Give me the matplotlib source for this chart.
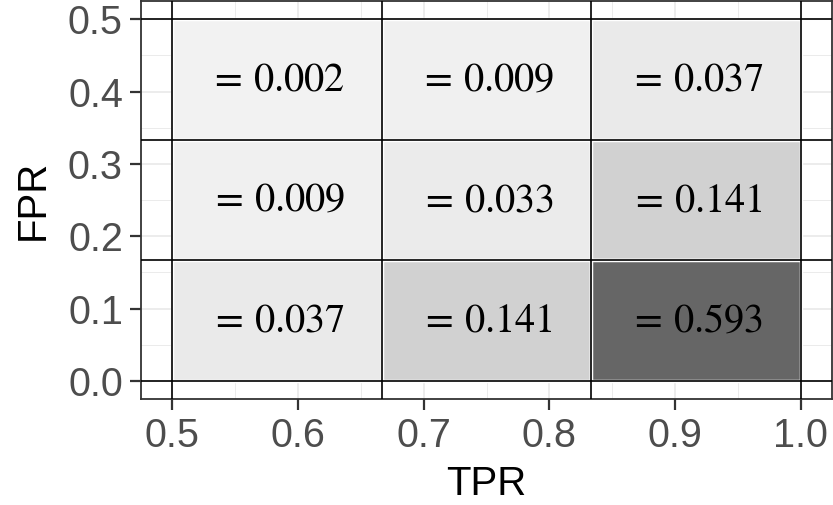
import numpy as np
import matplotlib.pyplot as plt
from matplotlib.colors import LinearSegmentedColormap, Normalize
from matplotlib.patches import Rectangle
from matplotlib.ticker import MultipleLocator

plt.rcParams['font.family'] = ['Liberation Sans', 'DejaVu Sans']
plt.rcParams['mathtext.fontset'] = 'stix'

# tile centres and joint probabilities
tpr = [0.5833, 0.75, 0.9167, 0.5833, 0.75, 0.9167, 0.5833, 0.75, 0.9167]
fpr = [0.4167, 0.4167, 0.4167, 0.25, 0.25, 0.25, 0.0833, 0.0833, 0.0833]
prob = [0.002, 0.009, 0.037, 0.009, 0.033, 0.141, 0.037, 0.141, 0.593]
breaks_x = [0.5, 2/3, 5/6, 1.0]
breaks_y = [0.0, 1/6, 1/3, 0.5]

tile_w = 1/6
tile_h = 1/6

cmap = LinearSegmentedColormap.from_list('greys', ['#f2f2f2', '#666666'])
norm = Normalize(vmin=min(prob), vmax=max(prob))

fig = plt.figure(figsize=(8.33, 5.05), dpi=100)
ax = fig.add_axes([0.1693, 0.2099, 0.8295, 0.788])

for x, y, p in zip(tpr, fpr, prob):
    ax.add_patch(Rectangle((x - tile_w/2, y - tile_h/2), tile_w, tile_h,
                           facecolor=cmap(norm(p)), edgecolor='white',
                           linewidth=2.5, zorder=2))
    ax.text(x, y, r'$=\,%.3f$' % p, ha='center', va='center',
            fontsize=29, zorder=4)

for b in breaks_x:
    ax.axvline(b, color='black', lw=1.2, zorder=3)
for b in breaks_y:
    ax.axhline(b, color='black', lw=1.2, zorder=3)

ax.set_xlim(0.475, 1.025)
ax.set_ylim(-0.025, 0.525)

ax.xaxis.set_major_locator(MultipleLocator(0.1))
ax.yaxis.set_major_locator(MultipleLocator(0.1))
ax.xaxis.set_minor_locator(MultipleLocator(0.05))
ax.yaxis.set_minor_locator(MultipleLocator(0.05))
ax.xaxis.set_major_formatter(lambda v, pos: '%.1f' % v)
ax.yaxis.set_major_formatter(lambda v, pos: '%.1f' % v)

ax.grid(which='major', color='#ebebeb', lw=1.3, zorder=0)
ax.grid(which='minor', color='#ebebeb', lw=0.7, zorder=0)
ax.set_axisbelow(True)

ax.tick_params(which='major', length=8, width=1.6, color='#333333',
               labelsize=28.5, labelcolor='#4d4d4d', pad=5)
ax.tick_params(which='minor', length=0)
for s in ax.spines.values():
    s.set_color('#333333')
    s.set_linewidth(1.3)

ax.set_xlabel('TPR', fontsize=29, labelpad=7)
ax.set_ylabel('FPR', fontsize=29, labelpad=12)

fig.savefig('out.png', dpi=100)
